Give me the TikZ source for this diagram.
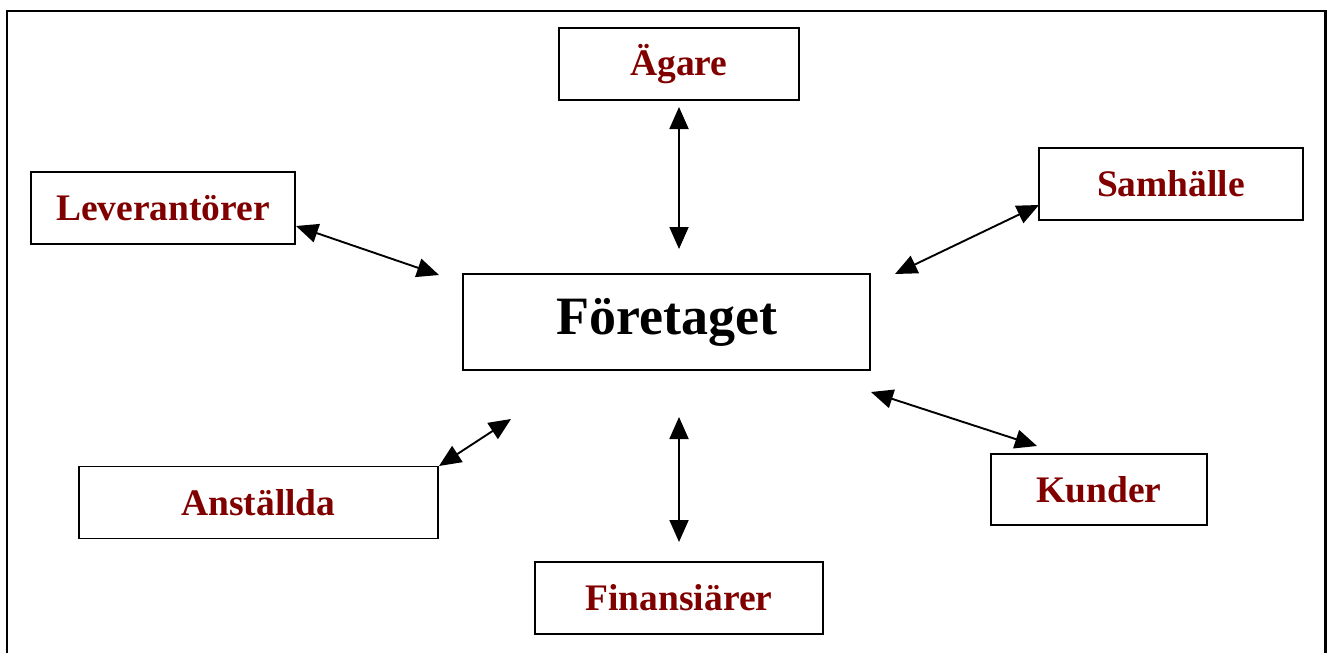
\documentclass[tikz,border=0pt]{standalone}
\usepackage{fontspec}
\setmainfont{Liberation Serif}
\usetikzlibrary{arrows.meta}
\definecolor{maroon}{HTML}{800000}
\begin{document}
\begin{tikzpicture}[x=1pt,y=-1pt,
  party/.style={draw=black,line width=1.2pt,minimum height=72pt,inner sep=0pt,
    font=\bfseries\fontsize{37.5}{42}\selectfont,text=maroon},
  centre/.style={draw=black,line width=1.4pt,minimum width=407pt,minimum height=96pt,inner sep=0pt,
    font=\bfseries\fontsize{54}{60}\selectfont},
  link/.style={line width=1.9pt,{Triangle[length=22pt,width=19pt]}-{Triangle[length=22pt,width=19pt]}}]
\useasboundingbox (0,0) rectangle (1327,653);
% outer frame, open at the bottom
\draw[line width=2.4pt] (7,653) -- (7,11) -- (1325.5,11) -- (1325.5,653);

\node[centre] (foretaget) at (666.5,322) {Företaget};
\node[party,minimum width=240pt] (agare) at (679,64) {Ägare};
\node[party,minimum width=264pt] (lev) at (163,208) {Leverantörer};
\node[party,minimum width=264pt] (sam) at (1171,184) {Samhälle};
\node[party,minimum width=359pt] (anst) at (258.5,502.5) {Anställda};
\node[party,minimum width=216pt,minimum height=71pt] (kund) at (1099,489.5) {Kunder};
\node[party,minimum width=288pt] (fin) at (679,598) {Finansiärer};

% arrow end points
\coordinate (a1) at (679,107);  \coordinate (a2) at (679,249);
\coordinate (l1) at (296,226);  \coordinate (l2) at (439,275);
\coordinate (s1) at (1039,205); \coordinate (s2) at (895,274);
\coordinate (k1) at (871,392);  \coordinate (k2) at (1037,446);
\coordinate (n1) at (439,466);  \coordinate (n2) at (511,419);
\coordinate (f1) at (679,417);  \coordinate (f2) at (679,542);

\draw[link] (a1) -- (a2);
\draw[link] (l1) -- (l2);
\draw[link] (s1) -- (s2);
\draw[link] (k1) -- (k2);
\draw[link] (n1) -- (n2);
\draw[link] (f1) -- (f2);
\end{tikzpicture}
\end{document}
